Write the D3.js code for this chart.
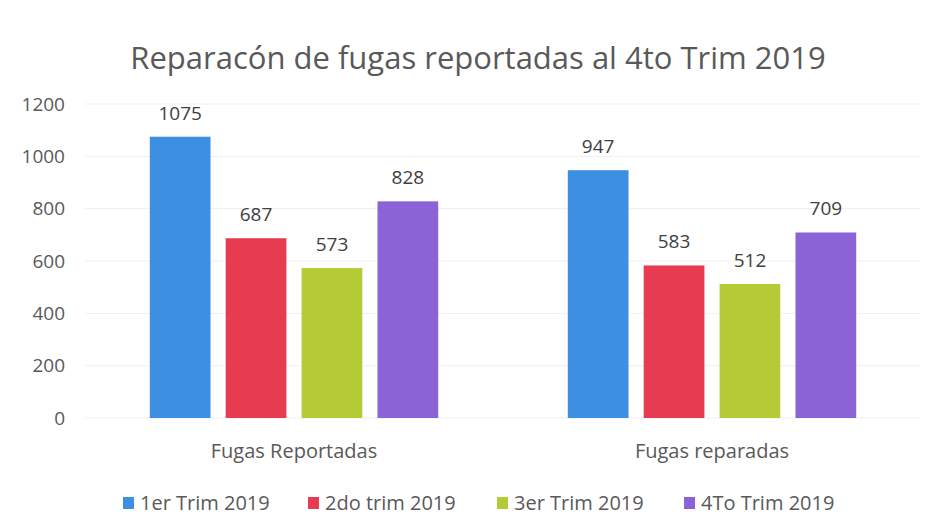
<!DOCTYPE html>
<html>
<head>
<meta charset="utf-8">
<script src="https://cdn.jsdelivr.net/npm/d3@7"></script>
<style>
	body { margin: 0; background: #fff; }
	text { font-family: "Open Sans", sans-serif; }
</style>
</head>
<body>
<div id="chart"></div>
<script>
'use strict';

// chart data
const categories = ["Fugas Reportadas", "Fugas reparadas"];
const series = ["1er Trim 2019", "2do trim 2019", "3er Trim 2019", "4To Trim 2019"];
const values = [
	[1075, 687, 573, 828],	// Fugas Reportadas
	[947, 583, 512, 709]	// Fugas reparadas
];
const yTicks = [0, 200, 400, 600, 800, 1000, 1200];
const colors = ["#3d8fe1", "#e63b51", "#b5cb36", "#8c63d7"];

const width = 937, height = 518;
const margin = { top: 104, right: 16, bottom: 100, left: 85 };

const svg = d3.select("#chart")
	.append("svg")
		.attr("width", width)
		.attr("height", height);

// title
svg.append("text")
	.attr("x", 478)
	.attr("y", 69)
	.attr("text-anchor", "middle")
	.attr("font-size", 31)
	.attr("fill", "#595959")
	.text("Reparacón de fugas reportadas al 4to Trim 2019");

const x0 = d3.scaleBand()
	.domain(categories)
	.range([margin.left, width - margin.right])
	.paddingInner(0.31)
	.paddingOuter(0.155);

const x1 = d3.scaleBand()
	.domain(series)
	.range([0, x0.bandwidth()])
	.paddingInner(0.2);

const y = d3.scaleLinear()
	.domain([0, 1200])
	.range([height - margin.bottom, margin.top]);

// gridlines
svg.append("g")
	.selectAll("line")
	.data(yTicks)
	.join("line")
		.attr("x1", margin.left)
		.attr("x2", width - margin.right)
		.attr("y1", d => y(d))
		.attr("y2", d => y(d))
		.attr("stroke", "#efefef")
		.attr("stroke-width", 1);

// y axis, no line, no ticks
const yAxis = svg.append("g")
	.attr("transform", `translate(${margin.left},0)`)
	.call(d3.axisLeft(y).tickValues(yTicks).tickFormat(d3.format("d")).tickSize(0).tickPadding(20));
yAxis.select(".domain").remove();
yAxis.selectAll("text")
	.attr("font-size", 19)
	.attr("fill", "#595959")
	.style("font-family", "'Open Sans', sans-serif");

// x axis labels
const xAxis = svg.append("g")
	.attr("transform", `translate(0,${height - margin.bottom})`)
	.call(d3.axisBottom(x0).tickSize(0).tickPadding(26));
xAxis.select(".domain").remove();
xAxis.selectAll("text")
	.attr("font-size", 20)
	.attr("fill", "#595959")
	.style("font-family", "'Open Sans', sans-serif");

// bars
const groups = svg.append("g")
	.selectAll("g")
	.data(categories)
	.join("g")
		.attr("transform", d => `translate(${x0(d)},0)`);

groups.selectAll("rect")
	.data((d, i) => values[i].map((v, j) => ({ s: series[j], v: v, c: colors[j] })))
	.join("rect")
		.attr("x", d => x1(d.s))
		.attr("y", d => y(d.v))
		.attr("width", x1.bandwidth())
		.attr("height", d => y(0) - y(d.v))
		.attr("fill", d => d.c);

// value labels
groups.selectAll("text.val")
	.data((d, i) => values[i].map((v, j) => ({ s: series[j], v: v })))
	.join("text")
		.attr("class", "val")
		.attr("x", d => x1(d.s) + x1.bandwidth() / 2)
		.attr("y", d => y(d.v) - 17)
		.attr("text-anchor", "middle")
		.attr("font-size", 19)
		.attr("fill", "#404040")
		.text(d => d.v);

// legend
const legendX = [123, 308, 497, 684];
const legend = svg.append("g")
	.selectAll("g")
	.data(series)
	.join("g")
		.attr("transform", (d, i) => `translate(${legendX[i]},503)`);

legend.append("rect")
	.attr("x", 0)
	.attr("y", -6)
	.attr("width", 11)
	.attr("height", 12)
	.attr("fill", (d, i) => colors[i]);

legend.append("text")
	.attr("x", 17)
	.attr("y", 7)
	.attr("font-size", 20)
	.attr("fill", "#595959")
	.text(d => d);
</script>
</body>
</html>
